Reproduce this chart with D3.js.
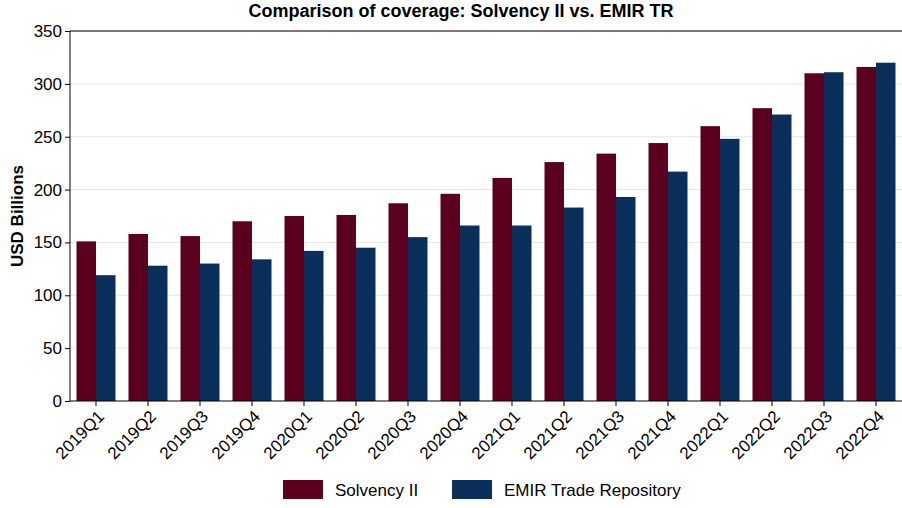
<!DOCTYPE html>
<html><head><meta charset="utf-8">
<script src="https://cdn.jsdelivr.net/npm/d3@7"></script>
<style>body{margin:0;background:#fff;font-family:Arial,"Liberation Sans",sans-serif}</style>
</head><body>
<svg id="c" width="902" height="508"></svg>
<script>
// Data
var quarters = ['2019Q1','2019Q2','2019Q3','2019Q4','2020Q1','2020Q2','2020Q3','2020Q4',
                '2021Q1','2021Q2','2021Q3','2021Q4','2022Q1','2022Q2','2022Q3','2022Q4'];
var solvency = [151,158,156,170,175,176,187,196,211,226,234,244,260,277,310,316];
var emir = [119,128,130,134,142,145,155,166,166,183,193,217,248,271,311,320];
var seriesNames = ['Solvency II','EMIR Trade Repository'];
var colors = ['#5c0020','#0b2f5b'];
var yTicks = [0,50,100,150,200,250,300,350];

var margin = {top: 31, right: 0, bottom: 107, left: 70};
var width = 902 - margin.left - margin.right;
var height = 508 - margin.top - margin.bottom;

var svg = d3.select('#c');
var g = svg.append('g').attr('transform', 'translate(' + margin.left + ',' + margin.top + ')');

var x = d3.scaleBand().domain(quarters).range([0, width]).paddingInner(0.25).paddingOuter(0.125);
var xs = d3.scaleBand().domain([0,1]).range([0, x.bandwidth()]);
var y = d3.scaleLinear().domain([0, 350]).range([height, 0]);

// gridlines
g.selectAll('.grid').data(yTicks.slice(1)).enter().append('line')
  .attr('x1', 0).attr('x2', width)
  .attr('y1', function(d) { return y(d); }).attr('y2', function(d) { return y(d); })
  .attr('stroke', '#e6e6e6');

// top border
g.append('line').attr('x1', 0).attr('x2', width).attr('y1', 0).attr('y2', 0).attr('stroke', '#000');

var groups = g.selectAll('.grp').data(quarters).enter().append('g')
  .attr('transform', function(d) { return 'translate(' + x(d) + ',0)'; });
groups.selectAll('rect').data(function(d, i) { return [solvency[i], emir[i]]; })
  .enter().append('rect')
  .attr('x', function(d, j) { return xs(j); })
  .attr('width', xs.bandwidth())
  .attr('y', function(d) { return y(d); })
  .attr('height', function(d) { return height - y(d); })
  .attr('fill', function(d, j) { return colors[j]; });

var ya = g.append('g').call(d3.axisLeft(y).tickValues(yTicks).tickSize(5));
ya.selectAll('text').style('font-size', '17px').attr('fill', '#000');
ya.select('.domain').attr('d', 'M0,' + height + 'V0');

var xa = g.append('g').attr('transform', 'translate(0,' + height + ')')
  .call(d3.axisBottom(x).tickSize(5));
xa.select('.domain').attr('d', 'M0,0H' + width);
xa.selectAll('text').style('font-size', '17px').attr('fill', '#000')
  .style('text-anchor', 'end').attr('dx', '-0.3em').attr('dy', '0.6em')
  .attr('transform', 'rotate(-45)');

svg.append('text').attr('x', 461).attr('y', 17).attr('text-anchor', 'middle')
  .style('font-size', '18px').style('font-weight', 'bold').text('Comparison of coverage: Solvency II vs. EMIR TR');

svg.append('text').attr('transform', 'translate(23,' + (margin.top + height / 2) + ') rotate(-90)')
  .attr('text-anchor', 'middle').style('font-size', '17px').style('font-weight', 'bold').text('USD Billions');

// legend
var lx = [283, 452];
seriesNames.forEach(function(n, i) {
  svg.append('rect').attr('x', lx[i]).attr('y', 480).attr('width', 40).attr('height', 19).attr('fill', colors[i]);
  svg.append('text').attr('x', lx[i] + 52).attr('y', 496).style('font-size', '17px').text(n);
});
</script>
</body></html>
